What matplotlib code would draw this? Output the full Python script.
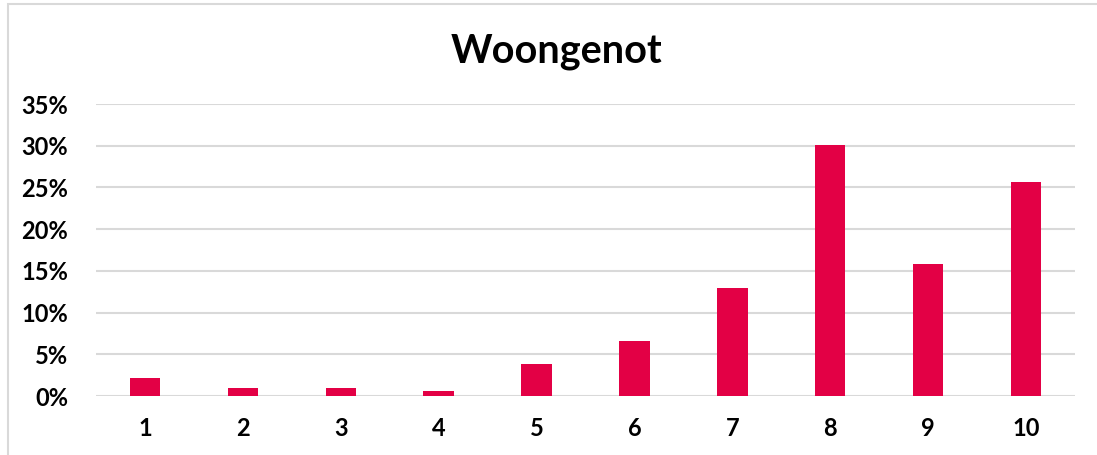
import matplotlib.pyplot as plt
from matplotlib.patches import Rectangle
from matplotlib.ticker import PercentFormatter

# Scores 1-10 and share of respondents
scores = ['1', '2', '3', '4', '5', '6', '7', '8', '9', '10']
shares = [0.021, 0.010, 0.010, 0.006, 0.038, 0.066, 0.130, 0.301, 0.158, 0.256]
y_ticks = [0, 0.05, 0.10, 0.15, 0.20, 0.25, 0.30, 0.35]

bar_color = '#E30045'
grid_color = '#D9D9D9'

plt.rcParams['font.family'] = ['Lato', 'DejaVu Sans']

fig = plt.figure(figsize=(10.97, 4.55), dpi=100)
ax = fig.add_axes([96 / 1097, 59 / 455, 979 / 1097, 292 / 455])

x = range(len(scores))
ax.bar(x, shares, width=0.31, color=bar_color, zorder=3)

ax.set_xlim(-0.5, len(scores) - 0.5)
ax.set_ylim(0, 0.35)
ax.set_yticks(y_ticks)
ax.yaxis.set_major_formatter(PercentFormatter(1.0, decimals=0))
ax.set_xticks(list(x))
ax.set_xticklabels(scores)

ax.grid(axis='y', color=grid_color, linewidth=1.5, zorder=0)
for s in ax.spines.values():
    s.set_visible(False)
ax.tick_params(axis='both', length=0, labelsize=17)
ax.tick_params(axis='y', pad=20)
ax.tick_params(axis='x', pad=15)
for lbl in ax.get_xticklabels() + ax.get_yticklabels():
    lbl.set_fontweight('bold')

fig.text(557 / 1097, 1 - 63 / 455, 'Woongenot', ha='center', va='baseline',
         fontsize=28.5, fontweight='bold')

# light frame around the chart area
fig.patches.append(Rectangle((8 / 1097, -0.1), 1.2, 1 - 4 / 455 + 0.1,
                             transform=fig.transFigure, fill=False,
                             edgecolor='#D9D9D9', linewidth=1.5))

fig.savefig('out.png', dpi=100)
